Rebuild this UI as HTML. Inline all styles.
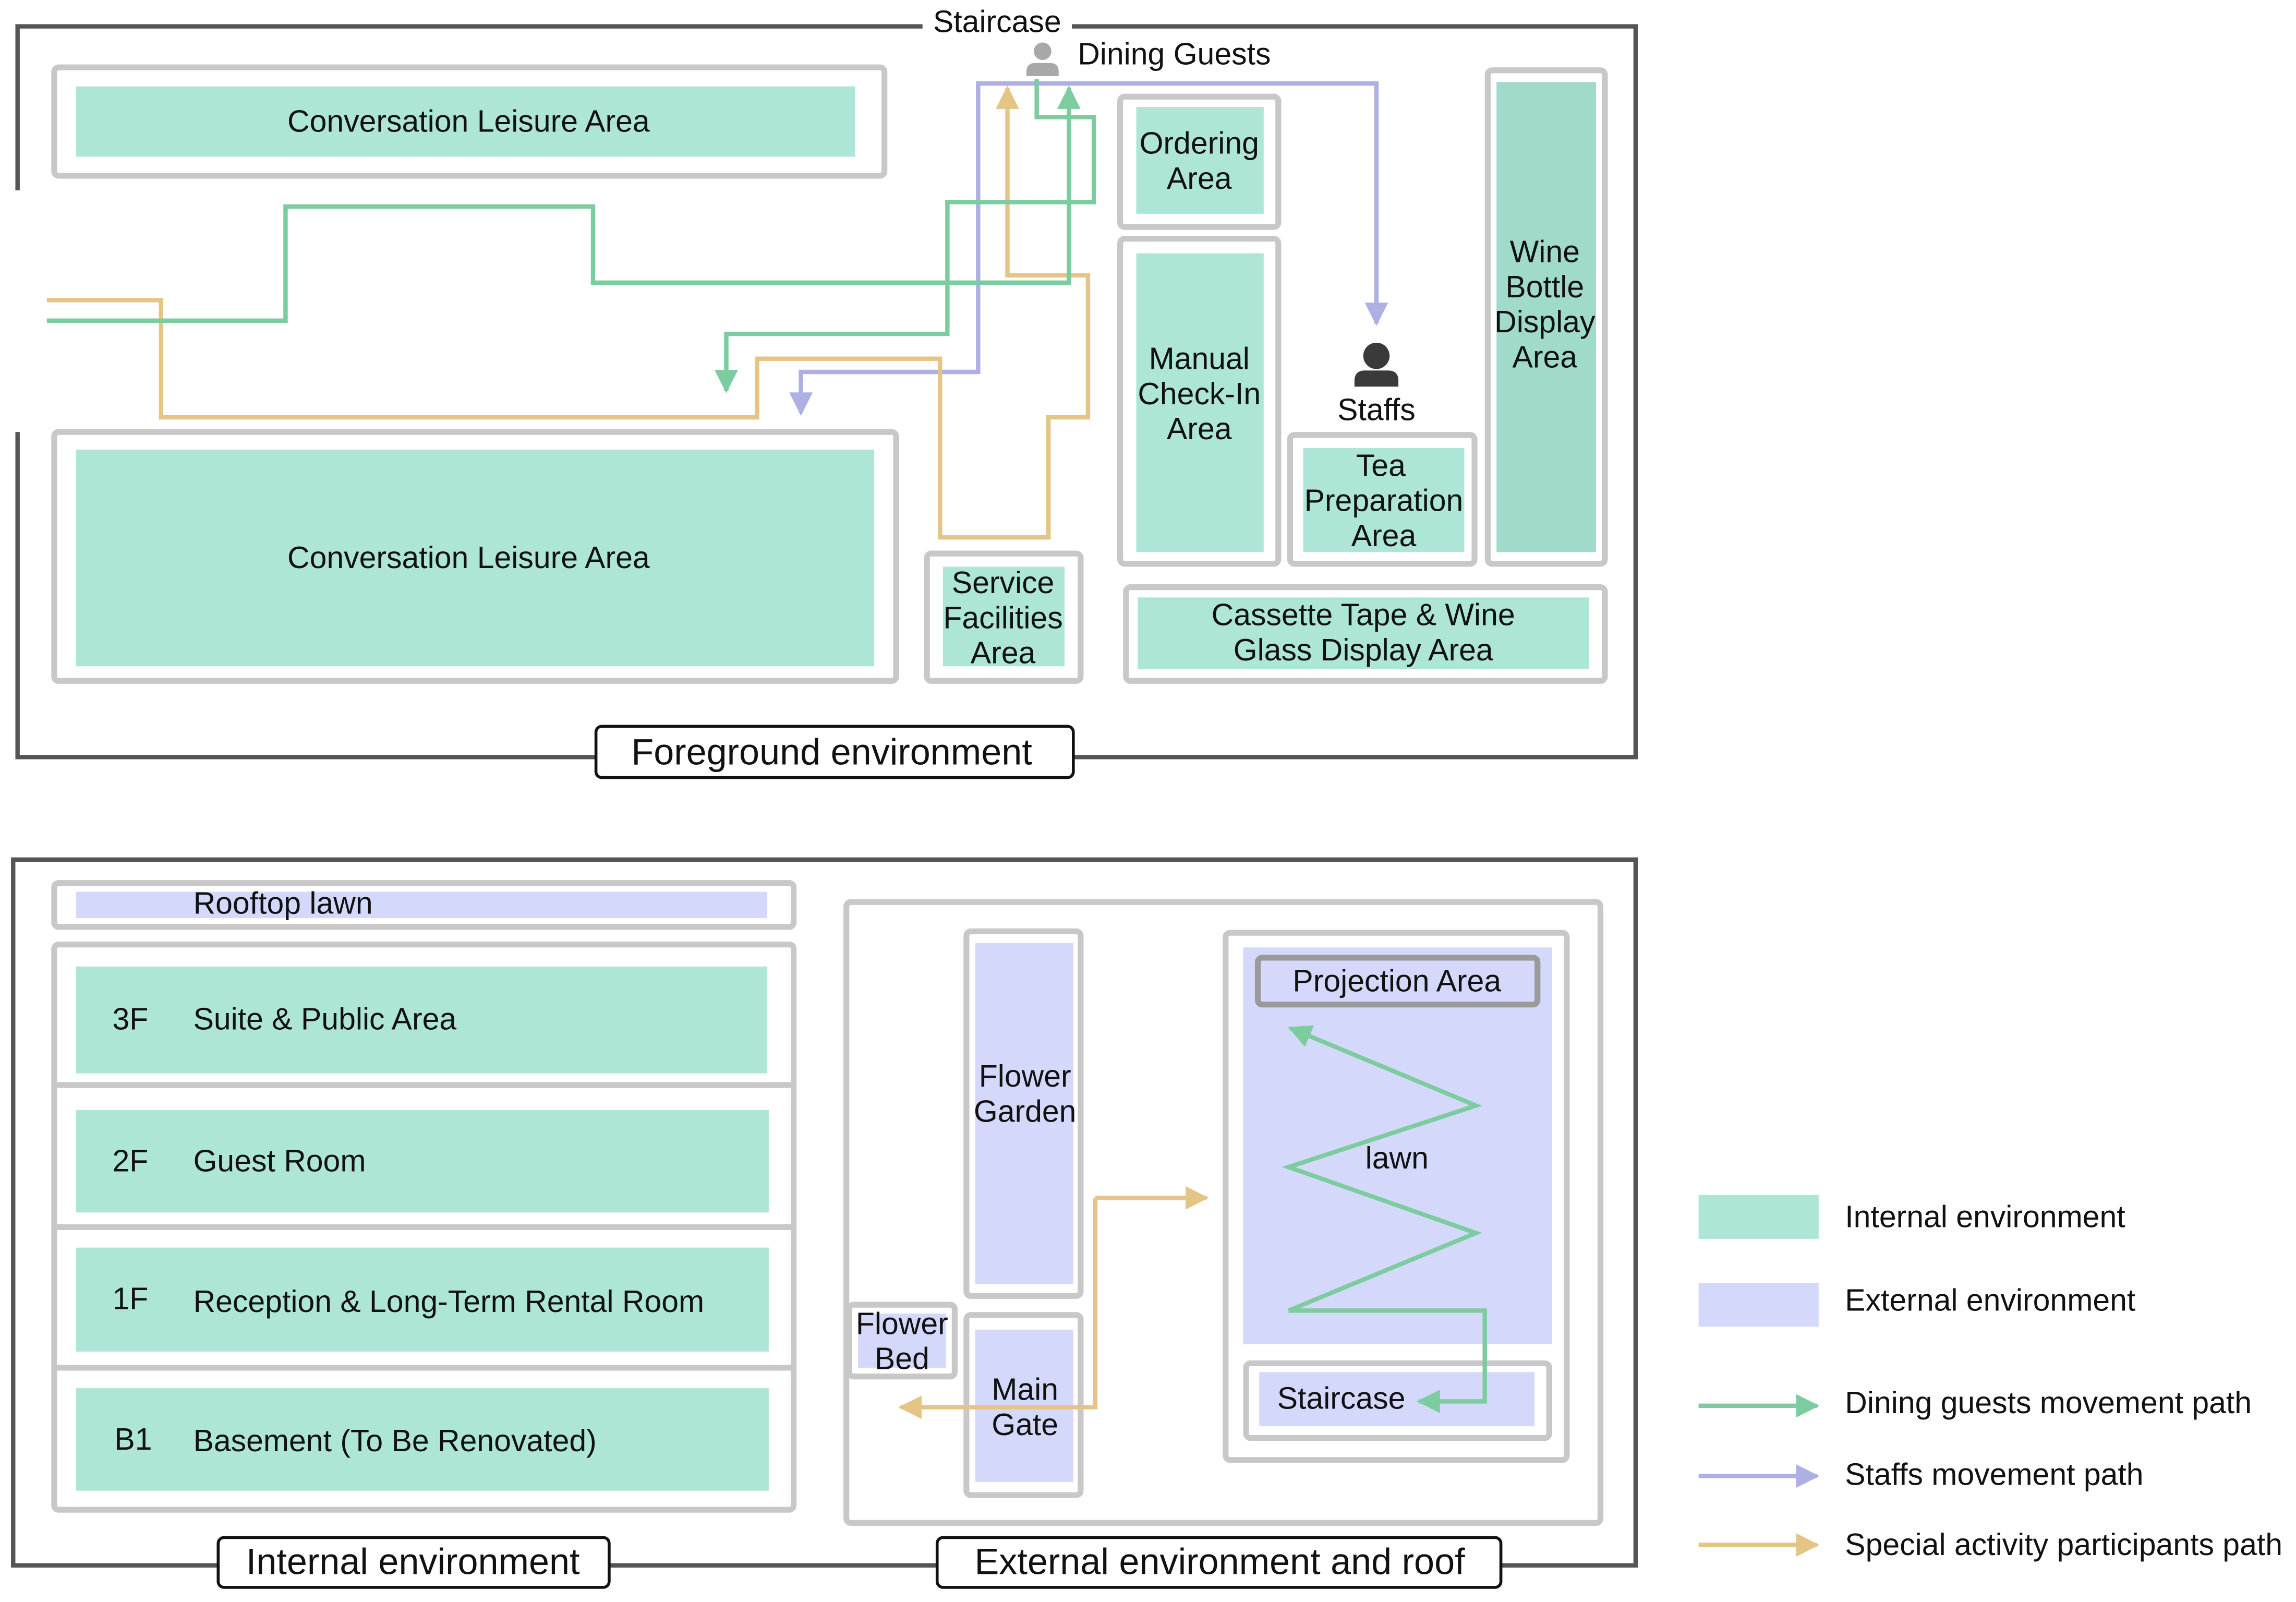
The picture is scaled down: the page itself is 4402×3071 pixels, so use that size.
<!DOCTYPE html>
<html><head><meta charset="utf-8"><style>html,body{margin:0;padding:0;background:#fff}svg{display:block}</style></head>
<body>
<svg width="4402" height="3071" viewBox="0 0 1568 1094" preserveAspectRatio="none" xmlns="http://www.w3.org/2000/svg" font-family="Liberation Sans, sans-serif" font-size="21" fill="#111">
<defs>
<marker id="ag" viewBox="0 0 10 10" refX="9" refY="5" markerWidth="16" markerHeight="16" markerUnits="userSpaceOnUse" orient="auto"><path d="M0,0L10,5L0,10z" fill="#7dcca0"/></marker>
<marker id="ab" viewBox="0 0 10 10" refX="9" refY="5" markerWidth="16" markerHeight="16" markerUnits="userSpaceOnUse" orient="auto"><path d="M0,0L10,5L0,10z" fill="#aeb0e4"/></marker>
<marker id="ay" viewBox="0 0 10 10" refX="9" refY="5" markerWidth="16" markerHeight="16" markerUnits="userSpaceOnUse" orient="auto"><path d="M0,0L10,5L0,10z" fill="#e4c586"/></marker>
</defs>
<style>
.o{fill:#fff;stroke:#c8c8c8;stroke-width:4}
.g{fill:#ade6d6}
.b{fill:#d4d9fb}
.pl{fill:none;stroke-width:3}
text{font-family:"Liberation Sans",sans-serif}
</style>
<path d="M12,130 V18 H630 M732,18 H1117 V517 H12 V295" fill="none" stroke="#555" stroke-width="3"/>
<text x="681" y="22" text-anchor="middle">Staircase</text>

<rect class="o" x="37" y="46" width="567" height="74" rx="3"/>
<rect class="g" x="52" y="59" width="532" height="48"/>
<text x="320" y="90" text-anchor="middle">Conversation Leisure Area</text>

<rect class="o" x="37" y="295" width="575" height="170" rx="3"/>
<rect class="g" x="52" y="307" width="545" height="148"/>
<text x="320" y="388" text-anchor="middle">Conversation Leisure Area</text>

<rect class="o" x="633" y="378" width="105" height="87" rx="3"/>
<rect class="g" x="644" y="387" width="83" height="68"/>
<text x="685" y="405" text-anchor="middle">Service</text><text x="685" y="429" text-anchor="middle">Facilities</text><text x="685" y="453" text-anchor="middle">Area</text>

<rect class="o" x="765" y="66" width="108" height="89" rx="3"/>
<rect class="g" x="776" y="73" width="87" height="73"/>
<text x="819" y="105" text-anchor="middle">Ordering</text><text x="819" y="129" text-anchor="middle">Area</text>

<rect class="o" x="765" y="163" width="108" height="222" rx="3"/>
<rect class="g" x="776" y="173" width="87" height="204"/>
<text x="819" y="252" text-anchor="middle">Manual</text><text x="819" y="276" text-anchor="middle">Check-In</text><text x="819" y="300" text-anchor="middle">Area</text>

<rect class="o" x="881" y="297" width="126" height="88" rx="3"/>
<rect class="g" x="890" y="306" width="110" height="71"/>
<text x="943" y="325" text-anchor="middle">Tea</text><text x="945" y="349" text-anchor="middle">Preparation</text><text x="945" y="373" text-anchor="middle">Area</text>

<rect class="o" x="1016" y="48" width="80" height="337" rx="3"/>
<rect x="1022" y="56" width="68" height="321" fill="#9fdacb"/>
<text x="1055" y="179" text-anchor="middle">Wine</text><text x="1055" y="203" text-anchor="middle">Bottle</text><text x="1055" y="227" text-anchor="middle">Display</text><text x="1055" y="251" text-anchor="middle">Area</text>

<rect class="o" x="769" y="401" width="327" height="64" rx="3"/>
<rect class="g" x="777" y="408" width="308" height="49"/>
<text x="931" y="427" text-anchor="middle">Cassette Tape &amp; Wine</text><text x="931" y="451" text-anchor="middle">Glass Display Area</text>

<circle cx="712" cy="35" r="6" fill="#a8a8a8"/><path d="M701,52 v-3 q0,-6 6,-6 h10 q6,0 6,6 v3z" fill="#a8a8a8"/>
<text x="736" y="44">Dining Guests</text>
<circle cx="940" cy="243" r="9" fill="#3a3a3a"/><path d="M925,264 v-4 q0,-7 7,-7 h16 q7,0 7,7 v4z" fill="#3a3a3a"/>
<text x="940" y="287" text-anchor="middle">Staffs</text>

<polyline class="pl" stroke="#aeb0e4" points="547,282 547,254 668,254 668,57 940,57 940,221" marker-end="url(#ab)"/>
<path d="M547,284 l-8,-16 h16z" fill="#aeb0e4"/>
<polyline class="pl" stroke="#e4c586" points="32,205 110,205 110,285 517,285 517,245 642,245 642,367 716,367 716,285 743,285 743,188 688,188 688,60" marker-end="url(#ay)"/>
<polyline class="pl" stroke="#7dcca0" points="32,219 195,219 195,141 405,141 405,193 730,193 730,60" marker-end="url(#ag)"/>
<polyline class="pl" stroke="#7dcca0" points="708,54 708,80 747,80 747,138 647,138 647,228 496,228 496,267" marker-end="url(#ag)"/>

<rect x="407" y="496" width="326" height="35" rx="4" fill="#fff" stroke="#111" stroke-width="2"/>
<text x="568" y="522" text-anchor="middle" font-size="25">Foreground environment</text>

<rect x="9" y="587" width="1108" height="482" fill="none" stroke="#555" stroke-width="3"/>

<rect class="o" x="37" y="603" width="505" height="30" rx="3"/>
<rect class="b" x="52" y="609" width="472" height="18"/>
<text x="132" y="624">Rooftop lawn</text>

<rect class="o" x="37" y="645" width="505" height="386" rx="3"/>
<line x1="37" y1="741" x2="542" y2="741" stroke="#c8c8c8" stroke-width="4"/>
<line x1="37" y1="838" x2="542" y2="838" stroke="#c8c8c8" stroke-width="4"/>
<line x1="37" y1="934" x2="542" y2="934" stroke="#c8c8c8" stroke-width="4"/>
<rect class="g" x="52" y="660" width="472" height="73"/>
<rect class="g" x="52" y="758" width="473" height="70"/>
<rect class="g" x="52" y="852" width="473" height="71"/>
<rect class="g" x="52" y="948" width="473" height="70"/>
<text x="89" y="703" text-anchor="middle">3F</text><text x="132" y="703">Suite &amp; Public Area</text>
<text x="89" y="800" text-anchor="middle">2F</text><text x="132" y="800">Guest Room</text>
<text x="89" y="894" text-anchor="middle">1F</text><text x="132" y="896">Reception &amp; Long-Term Rental Room</text>
<text x="91" y="990" text-anchor="middle">B1</text><text x="132" y="991">Basement (To Be Renovated)</text>

<rect class="o" x="578" y="616" width="515" height="424" rx="3"/>
<rect class="o" x="660" y="636" width="78" height="249" rx="3"/>
<rect class="b" x="666" y="644" width="67" height="233"/>
<text x="700" y="742" text-anchor="middle">Flower</text><text x="700" y="766" text-anchor="middle">Garden</text>
<rect class="o" x="660" y="898" width="78" height="123" rx="3"/>
<rect class="b" x="666" y="908" width="67" height="104"/>
<text x="700" y="956" text-anchor="middle">Main</text><text x="700" y="980" text-anchor="middle">Gate</text>
<rect class="o" x="580" y="891" width="72" height="49" rx="3"/>
<rect class="b" x="586" y="897" width="60" height="37"/>
<text x="616" y="911" text-anchor="middle">Flower</text><text x="616" y="935" text-anchor="middle">Bed</text>

<rect class="o" x="837" y="637" width="233" height="360" rx="3"/>
<rect class="b" x="849" y="647" width="211" height="271"/>
<rect x="859" y="654" width="191" height="32" rx="3" fill="#d4d9fb" stroke="#9a9a9a" stroke-width="4"/>
<text x="954" y="677" text-anchor="middle">Projection Area</text>
<text x="954" y="798" text-anchor="middle">lawn</text>
<rect class="o" x="851" y="931" width="207" height="51" rx="3"/>
<rect class="b" x="860" y="937" width="188" height="37"/>
<text x="916" y="962" text-anchor="middle">Staircase</text>

<polyline class="pl" stroke="#7dcca0" points="880,895 1008,842 880,797 1008,755 881,702" marker-end="url(#ag)"/>
<polyline class="pl" stroke="#7dcca0" points="880,895 1014,895 1014,957 969,957" marker-end="url(#ag)"/>
<polyline class="pl" stroke="#e4c586" points="748,818 824,818" marker-end="url(#ay)"/>
<polyline class="pl" stroke="#e4c586" points="748,818 748,961 615,961" marker-end="url(#ay)"/>

<rect x="149" y="1050" width="267" height="34" rx="4" fill="#fff" stroke="#111" stroke-width="2"/>
<text x="282" y="1075" text-anchor="middle" font-size="25">Internal environment</text>
<rect x="640" y="1050" width="385" height="34" rx="4" fill="#fff" stroke="#111" stroke-width="2"/>
<text x="833" y="1075" text-anchor="middle" font-size="25">External environment and roof</text>

<rect class="g" x="1160" y="816" width="82" height="30"/>
<rect class="b" x="1160" y="876" width="82" height="30"/>
<text x="1260" y="838">Internal environment</text>
<text x="1260" y="895">External environment</text>
<line x1="1160" y1="960" x2="1241" y2="960" stroke="#7dcca0" stroke-width="3" marker-end="url(#ag)"/>
<line x1="1160" y1="1008" x2="1241" y2="1008" stroke="#aeb0e4" stroke-width="3" marker-end="url(#ab)"/>
<line x1="1160" y1="1055" x2="1241" y2="1055" stroke="#e4c586" stroke-width="3" marker-end="url(#ay)"/>
<text x="1260" y="965">Dining guests movement path</text>
<text x="1260" y="1014">Staffs movement path</text>
<text x="1260" y="1062">Special activity participants path</text>
</svg>
</body></html>
